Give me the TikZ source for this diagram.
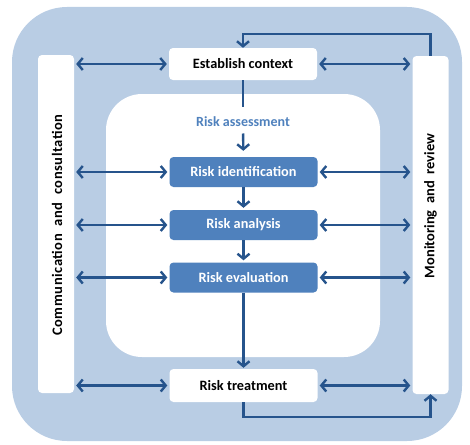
\documentclass[tikz,border=0pt]{standalone}
\usepackage{fontspec}
\setmainfont{Carlito}
\usetikzlibrary{arrows.meta}
\definecolor{paleblue}{RGB}{185,205,228}
\definecolor{midblue}{RGB}{79,129,189}
\definecolor{darkblue}{RGB}{38,84,140}

\begin{document}
\begin{tikzpicture}[x=1pt,y=-1pt,
 box/.style={fill=white,rounded corners=4pt,minimum width=148pt,minimum height=32pt,
 inner sep=0pt,font=\fontsize{14.3}{16}\selectfont\bfseries},
 stepbox/.style={box,fill=midblue,text=white,minimum height=30pt},
 bar/.style={fill=white,rounded corners=4pt,minimum width=36pt,minimum height=338pt,inner sep=0pt},
 bartext/.style={rotate=90,font=\fontsize{14.5}{16}\selectfont\bfseries},
 line/.style={line width=2.4pt,draw=darkblue},
 arrow/.style={line,-{Straight Barb[length=5pt,width=12pt]}},
 twoway/.style={line,{Straight Barb[length=5pt,width=12pt]}-{Straight Barb[length=5pt,width=12pt]},
 shorten <=2pt,shorten >=2pt}
]
\useasboundingbox (0,0) rectangle (470,444);
\fill[paleblue,rounded corners=55pt] (12,7) rectangle (462,441);
\fill[white,rounded corners=36pt] (106,94) rectangle (380,357);

% side bars
\node[bar] (comm) at (56,224) {};
\node[bar] (mon) at (430.5,225) {};
\node[bartext,font=\fontsize{14.5}{16}\selectfont\bfseries\addfontfeature{LetterSpace=4}]
 (commtext) at (57,225) {Communication\ \ and\ \ consultation};
\node[bartext] (montext) at (430.5,206) {Monitoring\ \ and\ \ review};

\node[box] (ec) at (243,64) {Establish context};
\node[font=\fontsize{14}{16}\selectfont\bfseries,text=midblue] (asm) at (243,122) {Risk assessment};
\node[stepbox] (ri) at (243.5,172) {Risk identification};
\node[stepbox] (ra) at (243.5,225) {Risk analysis};
\node[stepbox] (re) at (243.5,277.5) {Risk evaluation};
\node[box,minimum height=33pt] (rt) at (243.5,385.5) {Risk treatment};

\draw[line,shorten >=7pt] (ec) -- (asm);
\draw[arrow,shorten <=3pt,shorten >=6pt] (asm) -- (ri);
\draw[arrow,shorten >=2pt] (ri) -- (ra);
\draw[arrow,shorten >=2pt] (ra) -- (re);
\draw[arrow,shorten >=1pt] (re) -- (rt);

\foreach \n in {ec,ri,ra,re,rt}{
 \draw[twoway] (comm.east |- \n.west) -- (\n.west);
 \draw[twoway] (\n.east) -- (mon.west |- \n.east);
}

\draw[arrow] (mon.north) -- ++(0,-22) -| (ec.north);
\draw[arrow] (rt.south) -- ++(0,15) -| (mon.south);
\end{tikzpicture}
\end{document}
